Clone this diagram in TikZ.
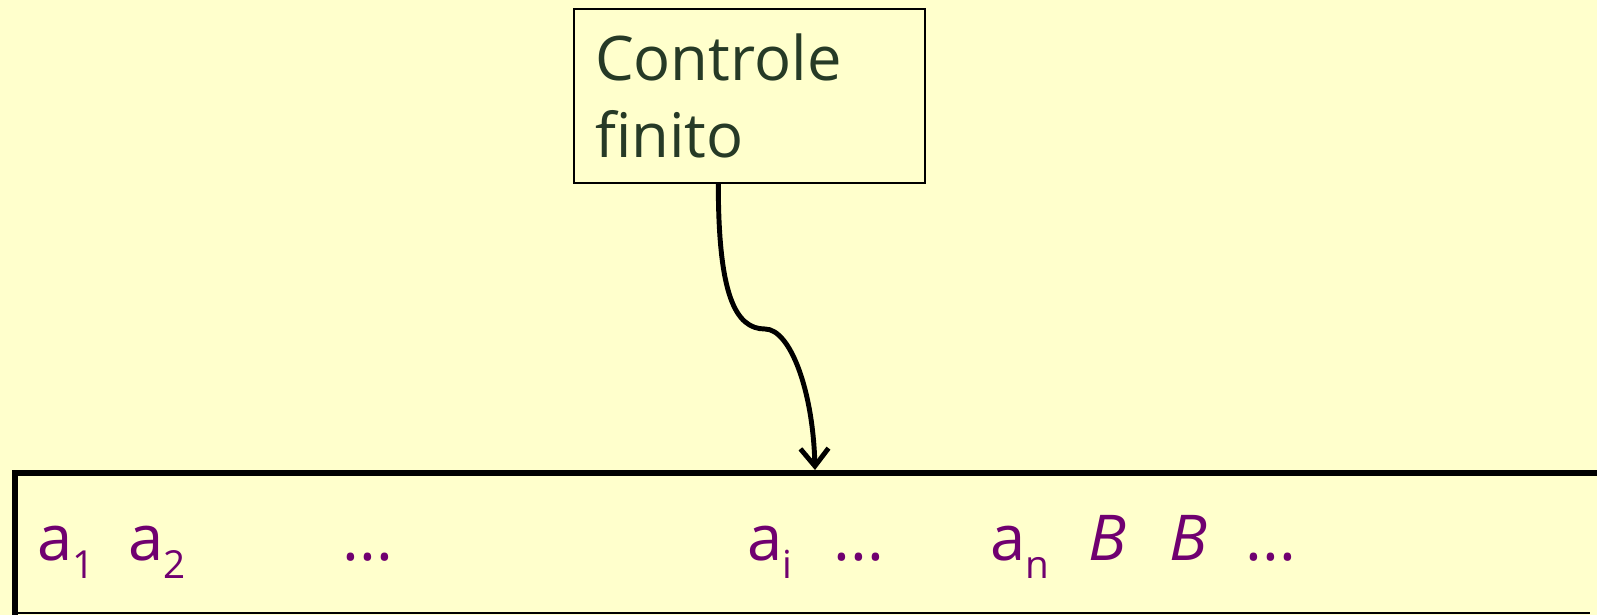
\documentclass[tikz,border=0pt]{standalone}
\usepackage{fontspec}
\setmainfont{Open Sans}
\usetikzlibrary{arrows.meta}
\definecolor{tapebg}{RGB}{255,255,204}
\definecolor{ctrltext}{RGB}{38,58,38}
\definecolor{tapesym}{RGB}{112,0,112}
\newcommand{\symsub}[2]{#1\raisebox{-0.3em}{\fontsize{22}{22}\selectfont #2}}

\begin{document}
\begin{tikzpicture}[x=0.02cm, y=-0.02cm,
  ctrlbox/.style={draw=black, line width=0.8pt, fill=tapebg, minimum width=7.02cm,
    minimum height=3.48cm, text width=6.18cm, align=left, inner xsep=0.42cm,
    inner ysep=0pt, text=ctrltext, font=\fontsize{35}{43.7}\selectfont},
  cellsym/.style={anchor=base west, inner sep=0pt, text=tapesym,
    font=\fontsize{36}{40}\selectfont},
  headarrow/.style={line width=2.8pt, -{Straight Barb[length=10pt, width=16pt]}}]
  \fill[tapebg] (0,0) rectangle (1597,615);
  \useasboundingbox (0,0) rectangle (1597,615);
  % finite control
  \node[ctrlbox] (ctrl) at (749.5,96) {Controle\\finito};
  % tape
  \coordinate (tl) at (15,473);
  \coordinate (tr) at (1597,473);
  \coordinate (bl) at (15,615);
  \coordinate (bb) at (15,613);
  \coordinate (br) at (1590,613);
  \draw[line width=3pt] (bl) -- (tl) -- (tr);
  \draw[line width=0.6pt] (bb) -- (br);
  \foreach \x/\s [count=\k] in {37/{\symsub{a}{1}}, 128/{\symsub{a}{2}}, 342/{...},
      747/{\symsub{a}{i}}, 833/{...}, 990/{\symsub{a}{n}}, 1088/{\itshape B},
      1169/{\itshape B}, 1245/{...}} {
    \node[cellsym] (s\k) at (\x,560) {\s};
  }
  % head
  \coordinate (bend) at (765,329);
  \coordinate (head) at (815,470);
  \draw[headarrow] ([xshift=2.9cm]ctrl.south west) .. controls +(0,110) and +(-30,0) .. (bend)
    .. controls +(25,0) and +(-2,-80) .. (head);
\end{tikzpicture}
\end{document}
